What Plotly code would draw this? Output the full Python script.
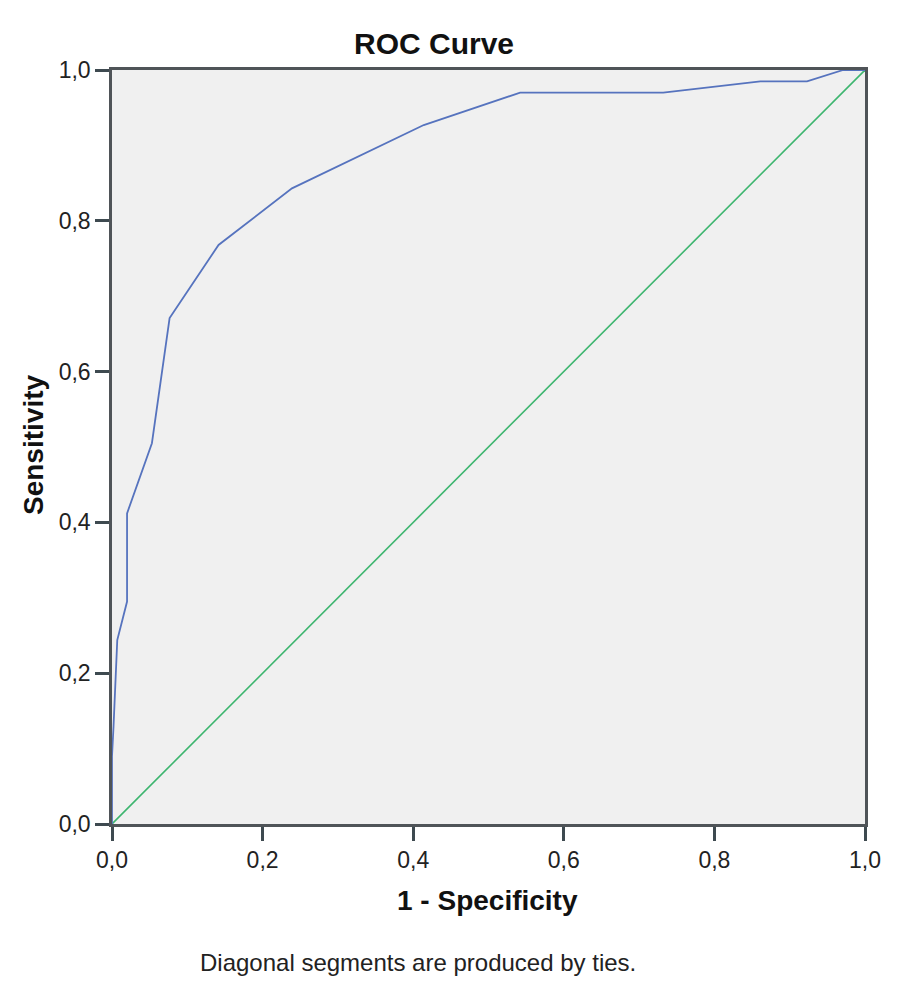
import plotly.graph_objects as go

# ROC curve points (1 - specificity, sensitivity)
fpr = [0.0, 0.0, 0.002, 0.007, 0.020, 0.020, 0.053, 0.0765, 0.1415, 0.239,
       0.414, 0.542, 0.732, 0.861, 0.923, 0.971, 1.0]
tpr = [0.0, 0.09, 0.129, 0.244, 0.295, 0.412, 0.505, 0.671, 0.768, 0.843,
       0.927, 0.970, 0.970, 0.985, 0.985, 1.0, 1.0]

# reference line
ref_x = [0.0, 1.0]
ref_y = [0.0, 1.0]

tick_vals = [0.0, 0.2, 0.4, 0.6, 0.8, 1.0]
tick_text = ["0,0", "0,2", "0,4", "0,6", "0,8", "1,0"]

FONT = "Liberation Sans, Arial"

# page has an 8px body margin, so the figure is sized to fit inside it
W, H = 891, 977
L, T, PW, PH = 104, 62, 753, 754


def px(x):
    return (x - L) / PW


def py(y):
    return 1 - (y - T) / PH


fig = go.Figure()

fig.add_trace(go.Scatter(
    x=ref_x, y=ref_y, mode="lines",
    line=dict(color="#3DB56F", width=1.6),
    showlegend=False, hoverinfo="skip",
))

fig.add_trace(go.Scatter(
    x=fpr, y=tpr, mode="lines",
    line=dict(color="#5673BE", width=1.8),
    showlegend=False,
))

axis_common = dict(
    range=[0, 1],
    tickvals=tick_vals,
    ticktext=tick_text,
    ticks="outside",
    ticklen=14,
    tickwidth=2.5,
    tickcolor="#3E4A50",
    showgrid=False,
    zeroline=False,
    showline=True,
    linecolor="#4F5458",
    linewidth=2.5,
    mirror=True,
    tickfont=dict(family=FONT, size=23, color="#222222"),
)

fig.update_xaxes(**axis_common)
fig.update_yaxes(**axis_common)

fig.update_layout(
    width=W, height=H,
    margin=dict(l=L, r=W - L - PW, t=T, b=H - T - PH),
    paper_bgcolor="white",
    plot_bgcolor="#F0F0F0",
    title=dict(text="<b>ROC Curve</b>", x=426 / W, xanchor="center",
               y=1 - 35 / H, yanchor="middle",
               font=dict(family=FONT, size=30, color="#111111")),
    annotations=[
        dict(text="<b>1 - Specificity</b>", xref="paper", yref="paper",
             x=px(479), y=py(892), xanchor="center", yanchor="middle",
             showarrow=False, font=dict(family=FONT, size=28, color="#111111")),
        dict(text="<b>Sensitivity</b>", xref="paper", yref="paper",
             x=px(25), y=py(437), xanchor="center", yanchor="middle",
             textangle=-90, showarrow=False,
             font=dict(family=FONT, size=28, color="#111111")),
        dict(text="Diagonal segments are produced by ties.",
             xref="paper", yref="paper", x=px(410), y=py(954),
             xanchor="center", yanchor="middle", showarrow=False,
             font=dict(family=FONT, size=24, color="#222222")),
    ],
)

fig.write_html("out.html")
